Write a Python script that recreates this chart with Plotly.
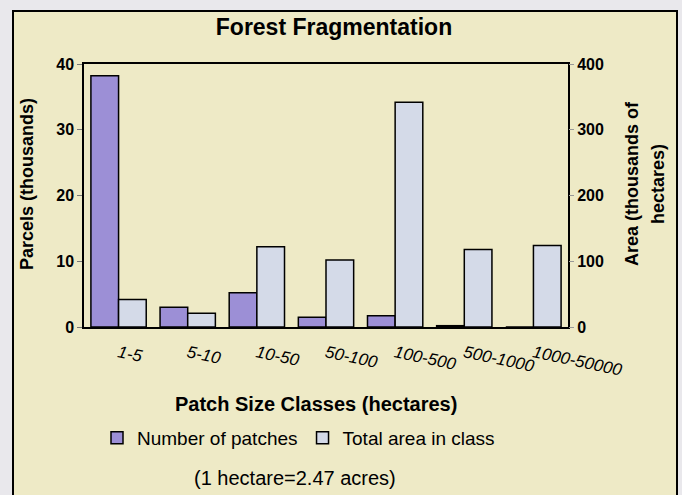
import plotly.graph_objects as go

# data
classes = ['1-5', '5-10', '10-50', '50-100', '100-500', '500-1000', '1000-50000']
patches = [38.2, 3.0, 5.2, 1.5, 1.7, 0.2, 0.0]        # thousands of parcels
area = [42, 21, 122, 102, 342, 118, 124]              # thousands of hectares

FRAME = '#eeeac6'
OUTER = '#e9e8ec'
PURPLE = '#9c8fd6'
LIGHT = '#d4dae8'
font = 'Arial, Liberation Sans, sans-serif'

fig = go.Figure()
fig.add_trace(go.Bar(x=classes, y=patches, name='Number of patches',
                     marker=dict(color=PURPLE, line=dict(color='black', width=1.5)),
                     width=0.4, offset=-0.4, yaxis='y'))
fig.add_trace(go.Bar(x=classes, y=area, name='Total area in class',
                     marker=dict(color=LIGHT, line=dict(color='black', width=1.5)),
                     width=0.4, offset=0.0, yaxis='y2'))

# beige frame with black border
fig.add_shape(type='rect', xref='paper', yref='paper',
              x0=(13 - 84) / 484, x1=(677 - 84) / 484,
              y0=(327 - 520) / 263, y1=(327 - 11) / 263,
              fillcolor=FRAME, line=dict(color='black', width=2), layer='below')

fig.update_layout(
    width=682, height=495,
    margin=dict(l=84, r=114, t=64, b=168),
    paper_bgcolor=OUTER, plot_bgcolor='rgba(0,0,0,0)',
    title=dict(text='Forest Fragmentation', x=334 / 682, xanchor='center',
               y=1 - 27 / 495, yanchor='middle',
               font=dict(family=font, size=23, color='black', weight='bold')),
    showlegend=True,
    legend=dict(orientation='h', x=(97 - 84) / 484, xanchor='left',
                y=(327 - 438) / 263, yanchor='middle', bgcolor='rgba(0,0,0,0)',
                font=dict(family=font, size=19, color='black'),
                itemwidth=30, traceorder='normal'),
    xaxis=dict(range=[-0.5, 6.5], showline=True, linecolor='black', linewidth=1.5,
               mirror=True, ticks='', tickangle=12, ticklabelstandoff=8,
               tickfont=dict(family=font, size=17, color='black', style='italic')),
    yaxis=dict(range=[0, 40], dtick=10, showgrid=False, zeroline=False,
               showline=True, linecolor='black', linewidth=1.5, mirror=True,
               ticks='outside', ticklen=5, tickcolor='#777',
               tickfont=dict(family=font, size=16, color='black', weight='bold')),
    yaxis2=dict(range=[0, 400], dtick=100, overlaying='y', side='right',
                showgrid=False, zeroline=False, showline=False,
                ticks='outside', ticklen=5, tickcolor='#999',
                tickfont=dict(family=font, size=16, color='black', weight='bold')),
    bargap=0.2,
)

bold = dict(family=font, size=18, color='black', weight='bold')
fig.add_annotation(text='Parcels (thousands)', xref='paper', yref='paper',
                   x=(27 - 84) / 484, y=(327 - 184) / 263, textangle=-90,
                   showarrow=False, font=bold, xanchor='center', yanchor='middle')
fig.add_annotation(text='Area (thousands of', xref='paper', yref='paper',
                   x=(632 - 84) / 484, y=(327 - 184) / 263, textangle=-90,
                   showarrow=False, font=bold, xanchor='center', yanchor='middle')
fig.add_annotation(text='hectares)', xref='paper', yref='paper',
                   x=(658 - 84) / 484, y=(327 - 184) / 263, textangle=-90,
                   showarrow=False, font=bold, xanchor='center', yanchor='middle')
fig.add_annotation(text='Patch Size Classes (hectares)', xref='paper', yref='paper',
                   x=(316 - 84) / 484, y=(327 - 404) / 263, showarrow=False,
                   font=dict(family=font, size=20, color='black', weight='bold'),
                   xanchor='center', yanchor='middle')
fig.add_annotation(text='(1 hectare=2.47 acres)', xref='paper', yref='paper',
                   x=(192 - 84) / 484, y=(327 - 478) / 263, showarrow=False,
                   font=dict(family=font, size=20, color='black'),
                   xanchor='left', yanchor='middle')

# page body has a default margin; drop it so the figure sits at 0,0
fig.write_html("out.html", config={'displayModeBar': False},
               post_script="document.body.style.margin='0';")
